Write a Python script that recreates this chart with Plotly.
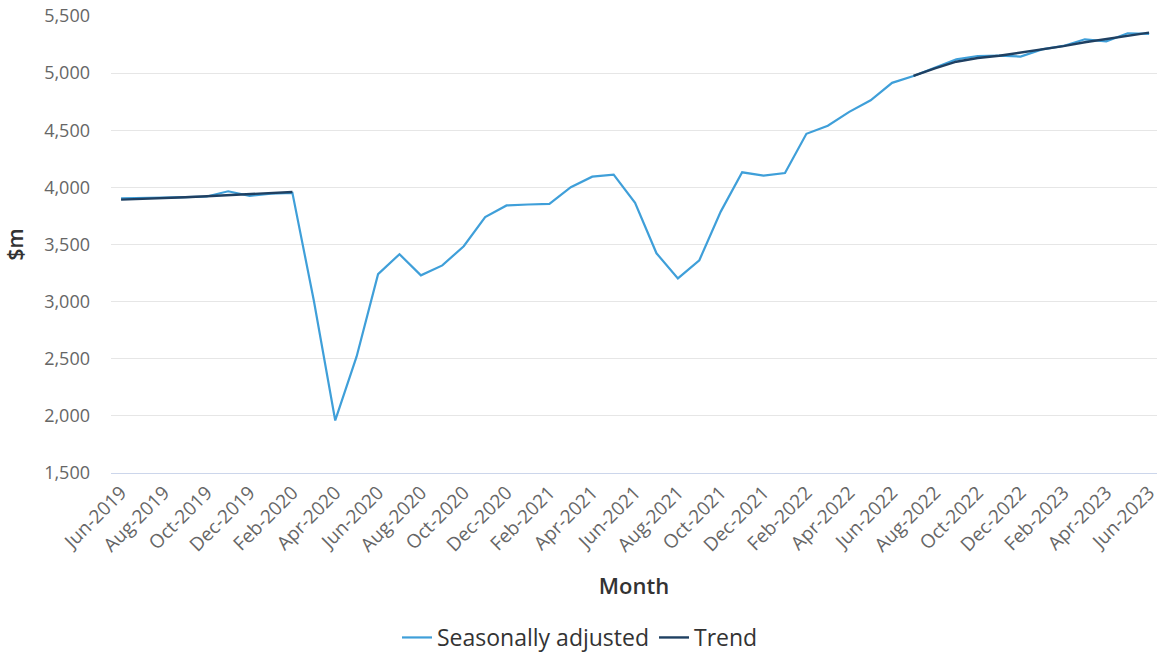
import plotly.graph_objects as go

months = [
    "Jun-2019", "Jul-2019", "Aug-2019", "Sep-2019", "Oct-2019", "Nov-2019", "Dec-2019",
    "Jan-2020", "Feb-2020", "Mar-2020", "Apr-2020", "May-2020", "Jun-2020", "Jul-2020",
    "Aug-2020", "Sep-2020", "Oct-2020", "Nov-2020", "Dec-2020",
    "Jan-2021", "Feb-2021", "Mar-2021", "Apr-2021", "May-2021", "Jun-2021", "Jul-2021",
    "Aug-2021", "Sep-2021", "Oct-2021", "Nov-2021", "Dec-2021",
    "Jan-2022", "Feb-2022", "Mar-2022", "Apr-2022", "May-2022", "Jun-2022", "Jul-2022",
    "Aug-2022", "Sep-2022", "Oct-2022", "Nov-2022", "Dec-2022",
    "Jan-2023", "Feb-2023", "Mar-2023", "Apr-2023", "May-2023", "Jun-2023",
]

seasonally_adjusted = [
    3905, 3905, 3910, 3915, 3920, 3966, 3925,
    3945, 3952, 3010, 1960, 2520, 3240, 3415,
    3230, 3317, 3485, 3740, 3842,
    3850, 3856, 4002, 4094, 4111, 3865, 3423,
    3203, 3362, 3788, 4132, 4103,
    4125, 4469, 4540, 4661, 4762, 4915, 4975,
    5046, 5120, 5150, 5153, 5145,
    5208, 5238, 5296, 5278, 5349, 5343,
]

trend = [
    3893, 3898, 3905, 3914, 3922, 3932, 3941,
    3951, 3960, None, None, None, None, None,
    None, None, None, None, None,
    None, None, None, None, None, None, None,
    None, None, None, None, None,
    None, None, None, None, None, None, 4975,
    5042, 5100, 5132, 5152, 5178,
    5205, 5236, 5270, 5296, 5328, 5354,
]

tick_months = months[::2]

fig = go.Figure()
fig.add_trace(go.Scatter(
    x=months, y=seasonally_adjusted, name="Seasonally adjusted",
    mode="lines", line=dict(color="#3f9fd9", width=2.2),
))
fig.add_trace(go.Scatter(
    x=months, y=trend, name="Trend",
    mode="lines", line=dict(color="#1f4062", width=2.4),
    connectgaps=False,
))

fig.update_layout(
    width=1160, height=659,
    margin=dict(l=111, r=0, t=16, b=186),
    plot_bgcolor="white", paper_bgcolor="white",
    font=dict(family="Open Sans", color="#666666"),
    showlegend=True,
    legend=dict(
        orientation="h", x=0.5, xanchor="center", xref="container",
        y=0, yanchor="bottom", yref="container",
        font=dict(size=23, color="#333333"),
        itemwidth=30,
    ),
    xaxis=dict(
        type="category",
        range=[-0.47, 48.37],
        tickmode="array", tickvals=tick_months, ticktext=tick_months,
        tickangle=-45,
        tickfont=dict(size=19, color="#666666"),
        showgrid=False,
        showline=True, linecolor="#ccd6eb", linewidth=1,
        ticks="",
        title=dict(text="Month", font=dict(size=22, color="#333333", weight=600), standoff=22),
    ),
    yaxis=dict(
        range=[1500, 5500],
        tickvals=[1500, 2000, 2500, 3000, 3500, 4000, 4500, 5000, 5500],
        tickformat=",",
        tickfont=dict(size=18, color="#666666"),
        gridcolor="#e6e6e6", gridwidth=1,
        zeroline=False,
        ticklabelstandoff=20,
        title=dict(text="$m", font=dict(size=21, color="#333333", weight=600), standoff=14),
    ),
)

fig.write_html("out.html")
